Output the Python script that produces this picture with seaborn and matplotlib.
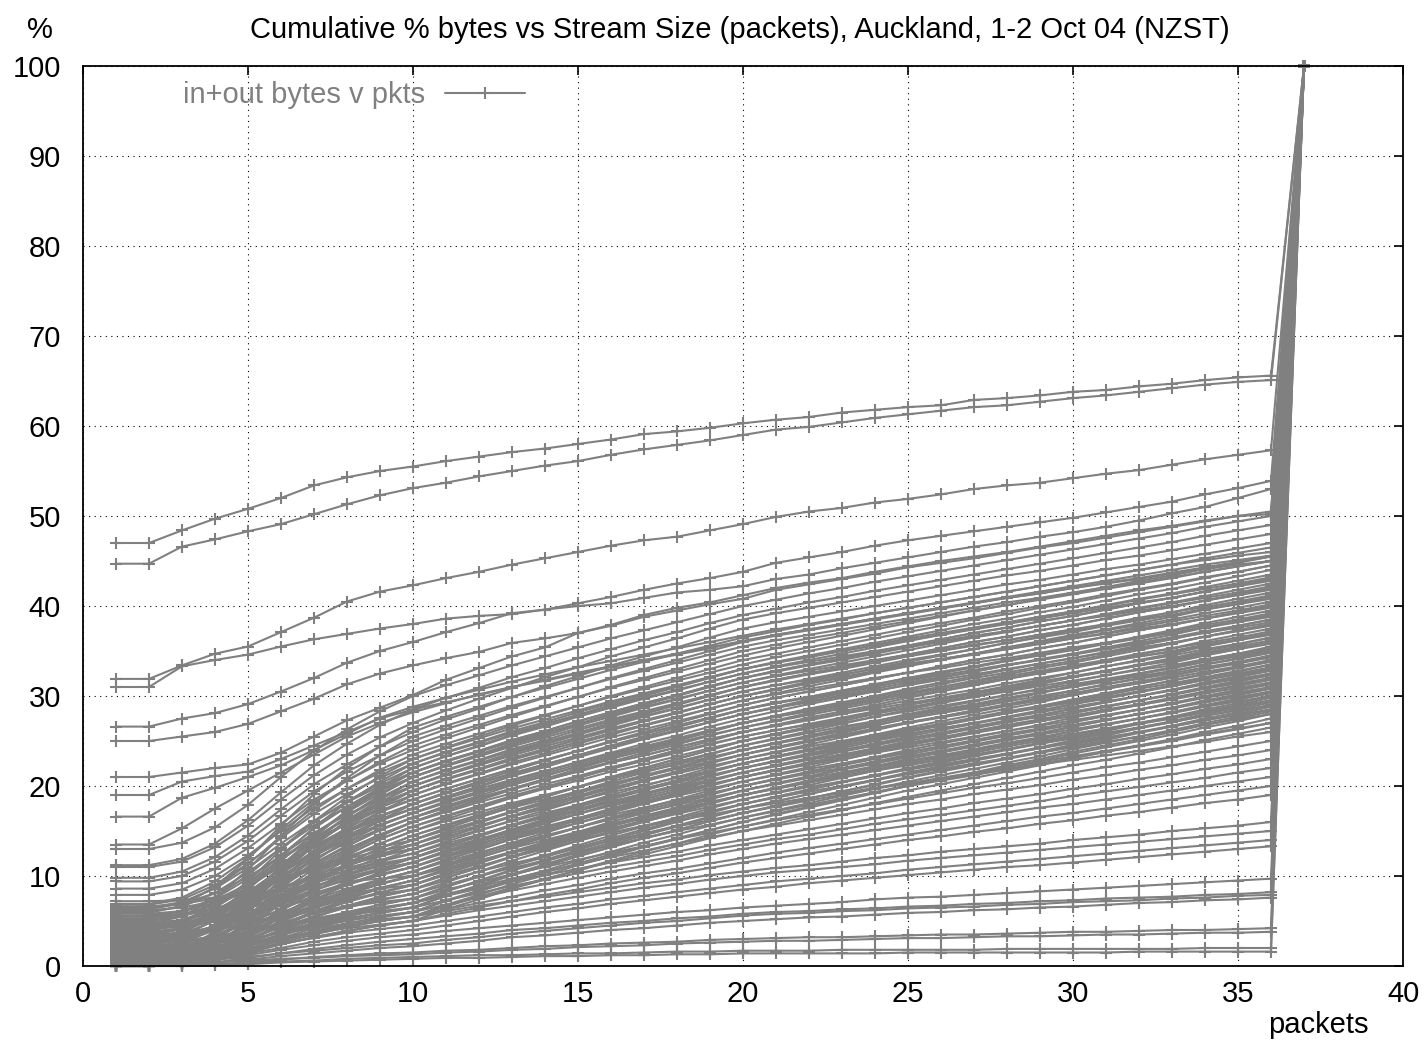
import matplotlib
matplotlib.use("Agg")
import matplotlib.pyplot as plt
import seaborn as sns
import pandas as pd
from matplotlib.lines import Line2D

# ---------------- data ----------------
PACKETS = [1, 2, 3, 4, 5, 6, 7, 8, 9, 10, 11, 12, 13, 14, 15, 16, 17, 18, 19, 20,
           21, 22, 23, 24, 25, 26, 27, 28, 29, 30, 31, 32, 33, 34, 35, 36, 37]

top_a = [47.0,47.0,48.4,49.7,50.8,52.0,53.4,54.3,55.0,55.5,56.1,56.6,57.1,57.5,58.0,58.5,59.1,59.4,59.8,60.3,60.7,61.0,61.5,61.8,62.1,62.3,62.9,63.1,63.4,63.8,64.0,64.4,64.7,65.1,65.4,65.6,100]
top_b = [44.7,44.7,46.6,47.4,48.3,49.1,50.2,51.3,52.3,53.1,53.7,54.4,55.0,55.6,56.1,56.8,57.4,57.9,58.4,59.0,59.6,59.9,60.4,60.9,61.3,61.7,62.1,62.3,62.7,63.1,63.4,63.8,64.2,64.6,64.9,65.1,100]
top_c = [31.9,31.9,33.4,34.7,35.5,37.1,38.7,40.5,41.6,42.3,43.1,43.8,44.6,45.3,46.0,46.7,47.3,47.7,48.4,49.1,49.9,50.5,50.9,51.5,51.9,52.4,53.0,53.4,53.7,54.2,54.7,55.1,55.7,56.3,56.8,57.3,100]
top_d = [31.0,31.0,33.3,34.0,34.6,35.5,36.3,36.9,37.5,38.0,38.6,38.9,39.1,39.6,40.3,41.0,41.8,42.5,43.1,43.8,44.8,45.4,46.0,46.7,47.3,47.8,48.3,48.8,49.3,49.8,50.4,51.0,51.6,52.4,53.1,53.9,100]
top_e = [26.6,26.6,27.5,28.1,29.1,30.5,32.0,33.7,35.0,36.0,37.1,38.1,39.2,39.6,40.0,40.3,40.9,41.5,41.8,42.2,43.0,43.5,44.2,44.8,45.4,46.0,46.6,47.1,47.7,48.2,48.8,49.5,50.3,51.0,52.0,53.0,100]
top_f = [25.0,25.0,25.5,26.0,26.9,28.3,29.7,31.3,32.5,33.4,34.2,34.9,35.9,36.4,37.0,37.8,38.8,39.5,40.2,40.8,41.8,42.4,43.0,43.6,44.3,44.8,45.3,45.9,46.5,47.0,47.6,48.2,48.8,49.4,50.0,50.5,100]
top_g = [21.0,21.0,21.5,22.0,22.4,23.7,25.5,27.3,28.7,30.1,31.8,33.1,34.4,35.4,37.0,37.9,39.0,39.8,40.4,41.2,42.0,42.6,43.1,43.8,44.4,45.0,45.5,46.0,46.6,47.2,47.8,48.4,48.9,49.5,50.0,50.2,100]
top_h = [19.0,19.0,20.5,21.1,21.6,23.0,24.5,26.0,27.5,28.5,29.3,30.1,31.0,31.7,32.5,33.2,33.9,34.6,35.3,36.1,36.8,37.4,38.0,38.6,39.2,39.8,40.4,41.0,41.6,42.2,42.8,43.4,44.0,44.6,45.1,45.6,100]
top_i = [16.6,16.6,18.7,19.8,21.0,22.3,24.0,25.8,27.6,28.8,29.8,30.7,31.6,32.4,33.2,33.9,34.6,35.3,36.0,36.7,37.4,38.0,38.6,39.2,39.8,40.4,41.0,41.6,42.2,42.8,43.4,44.0,44.6,45.1,45.6,46.0,100]
top_j = [13.5,13.5,15.3,17.5,19.5,21.5,23.5,25.5,27.0,28.2,29.2,30.2,31.0,31.8,32.6,33.3,34.0,34.7,35.4,36.1,36.8,37.4,38.0,38.6,39.2,39.8,40.3,40.9,41.4,42.0,42.5,43.0,43.6,44.1,44.6,45.0,100]

band_01 = [13.0,13.0,13.7,15.4,17.9,21.0,23.9,26.3,28.3,30.0,31.2,32.3,33.4,34.4,35.4,36.4,37.3,38.2,39.1,40.0,40.7,41.4,42.0,42.7,43.3,43.9,44.5,45.1,45.7,46.3,46.9,47.5,48.1,48.8,49.4,50.0,100]
band_02 = [11.2,11.2,11.9,13.6,16.2,19.3,22.3,24.7,26.8,28.5,29.8,30.9,32.1,33.1,34.2,35.2,36.2,37.1,38.1,39.0,39.7,40.4,41.0,41.7,42.3,42.9,43.5,44.1,44.7,45.3,45.9,46.5,47.1,47.8,48.4,49.0,100]
band_03 = [11.0,11.0,11.6,13.2,15.6,18.5,21.2,23.5,25.4,27.0,28.4,29.7,30.9,32.1,33.2,34.4,35.4,36.4,37.5,38.5,39.2,39.8,40.4,41.0,41.6,42.2,42.8,43.4,43.9,44.5,45.1,45.6,46.2,46.8,47.4,48.0,100]
band_04 = [9.8,9.8,10.5,12.1,14.5,17.4,20.2,22.4,24.4,26.0,27.4,28.6,29.9,31.1,32.2,33.4,34.4,35.4,36.5,37.5,38.2,38.8,39.4,40.0,40.6,41.2,41.8,42.4,42.9,43.5,44.1,44.6,45.2,45.8,46.4,47.0,100]
band_05 = [9.4,9.4,10.0,11.6,13.9,16.7,19.4,21.6,23.4,25.0,26.3,27.5,28.7,29.8,30.9,32.0,33.0,34.0,35.0,36.0,36.7,37.3,37.9,38.5,39.1,39.7,40.3,40.9,41.4,42.0,42.6,43.1,43.7,44.3,44.9,45.5,100]
band_06 = [8.6,8.6,9.2,10.8,13.1,15.8,18.5,20.6,22.5,24.0,25.3,26.5,27.7,28.8,29.9,31.0,32.0,33.0,34.0,35.0,35.7,36.4,37.0,37.7,38.3,38.9,39.5,40.1,40.7,41.3,41.9,42.5,43.1,43.8,44.4,45.0,100]
band_07 = [7.9,7.9,8.5,10.0,12.3,15.0,17.6,19.7,21.5,23.0,24.3,25.5,26.7,27.8,28.9,30.0,31.0,32.0,33.0,34.0,34.7,35.4,36.1,36.8,37.5,38.1,38.7,39.4,40.0,40.6,41.3,41.9,42.5,43.2,43.8,44.5,100]
band_08 = [6.8,6.8,7.4,9.0,11.4,14.2,16.9,19.1,20.9,22.5,23.8,24.9,26.1,27.1,28.2,29.2,30.2,31.1,32.1,33.0,33.8,34.5,35.2,35.9,36.6,37.3,38.0,38.6,39.3,39.9,40.6,41.3,41.9,42.6,43.3,44.0,100]
band_09 = [6.5,6.5,7.1,8.6,10.9,13.6,16.1,18.2,20.0,21.5,22.8,23.9,25.1,26.1,27.2,28.2,29.2,30.1,31.1,32.0,32.8,33.5,34.2,34.9,35.6,36.3,37.0,37.6,38.3,38.9,39.6,40.3,40.9,41.6,42.3,43.0,100]
band_10 = [6.0,6.0,6.6,8.1,10.4,13.1,15.6,17.7,19.5,21.0,22.2,23.3,24.4,25.4,26.4,27.4,28.3,29.2,30.1,31.0,31.8,32.5,33.2,33.9,34.6,35.3,36.0,36.6,37.3,37.9,38.6,39.3,39.9,40.6,41.3,42.0,100]
band_11 = [5.5,5.5,6.1,7.5,9.7,12.3,14.8,16.8,18.6,20.0,21.3,22.4,23.6,24.6,25.7,26.7,27.7,28.6,29.6,30.5,31.2,31.9,32.6,33.3,34.0,34.6,35.2,35.9,36.5,37.1,37.8,38.4,39.0,39.7,40.3,41.0,100]
band_12 = [5.0,5.0,5.6,7.0,9.2,11.8,14.3,16.3,18.1,19.5,20.8,21.9,23.1,24.1,25.2,26.2,27.2,28.1,29.1,30.0,30.7,31.4,32.1,32.8,33.5,34.1,34.7,35.4,36.0,36.6,37.3,37.9,38.5,39.2,39.8,40.5,100]
band_13 = [4.5,4.5,5.1,6.5,8.7,11.3,13.8,15.8,17.6,19.0,20.2,21.3,22.4,23.4,24.4,25.4,26.3,27.2,28.1,29.0,29.8,30.5,31.2,31.9,32.6,33.3,34.0,34.6,35.3,35.9,36.6,37.3,37.9,38.6,39.3,40.0,100]
band_14 = [4.0,4.0,4.6,6.0,8.2,10.8,13.3,15.3,17.1,18.5,19.7,20.8,21.9,22.9,23.9,24.9,25.8,26.7,27.6,28.5,29.2,29.9,30.6,31.3,32.0,32.6,33.2,33.9,34.5,35.1,35.8,36.4,37.0,37.7,38.3,39.0,100]
band_15 = [3.5,3.5,4.1,5.5,7.7,10.3,12.8,14.8,16.6,18.0,19.2,20.3,21.4,22.4,23.4,24.4,25.3,26.2,27.1,28.0,28.7,29.4,30.1,30.8,31.5,32.1,32.7,33.4,34.0,34.6,35.3,35.9,36.5,37.2,37.8,38.5,100]
band_16 = [3.0,3.0,3.6,5.0,7.2,9.8,12.3,14.3,16.1,17.5,18.6,19.7,20.7,21.7,22.6,23.6,24.4,25.3,26.2,27.0,27.8,28.5,29.2,29.9,30.6,31.3,32.0,32.6,33.3,33.9,34.6,35.3,35.9,36.6,37.3,38.0,100]
band_17 = [2.5,2.5,3.1,4.5,6.7,9.3,11.8,13.8,15.6,17.0,18.1,19.2,20.2,21.2,22.1,23.1,23.9,24.8,25.7,26.5,27.2,27.9,28.6,29.3,30.0,30.6,31.2,31.9,32.5,33.1,33.8,34.4,35.0,35.7,36.3,37.0,100]
band_18 = [2.0,2.0,2.6,4.0,6.2,8.8,11.3,13.3,15.1,16.5,17.6,18.7,19.7,20.7,21.6,22.6,23.4,24.3,25.2,26.0,26.7,27.4,28.1,28.8,29.5,30.1,30.7,31.4,32.0,32.6,33.3,33.9,34.5,35.2,35.8,36.5,100]
band_19 = [1.5,1.5,2.1,3.5,5.7,8.3,10.8,12.8,14.6,16.0,17.1,18.2,19.2,20.2,21.1,22.1,22.9,23.8,24.7,25.5,26.2,26.9,27.6,28.3,29.0,29.6,30.2,30.9,31.5,32.1,32.8,33.4,34.0,34.7,35.3,36.0,100]
band_20 = [1.0,1.0,1.6,3.0,5.2,7.8,10.3,12.3,14.1,15.5,16.6,17.7,18.7,19.7,20.6,21.6,22.4,23.3,24.2,25.0,25.7,26.4,27.0,27.7,28.3,28.9,29.5,30.1,30.7,31.3,31.9,32.5,33.1,33.8,34.4,35.0,100]
band_21 = [0.5,0.5,1.1,2.5,4.7,7.3,9.8,11.8,13.6,15.0,16.1,17.1,18.1,19.0,19.9,20.8,21.6,22.4,23.2,24.0,24.7,25.4,26.1,26.8,27.5,28.1,28.7,29.4,30.0,30.6,31.3,31.9,32.5,33.2,33.8,34.5,100]
band_22 = [0.2,0.2,0.8,2.2,4.4,6.9,9.4,11.4,13.1,14.5,15.6,16.6,17.6,18.5,19.4,20.3,21.1,21.9,22.7,23.5,24.2,24.9,25.6,26.3,27.0,27.6,28.2,28.9,29.5,30.1,30.8,31.4,32.0,32.7,33.3,34.0,100]
band_23 = [5.8,5.8,6.1,7.0,8.2,9.7,11.1,12.2,13.2,14.0,15.1,16.1,17.1,18.0,18.9,19.8,20.6,21.4,22.2,23.0,23.7,24.4,25.0,25.7,26.3,26.9,27.5,28.1,28.7,29.3,29.9,30.5,31.1,31.8,32.4,33.0,100]
band_24 = [6.2,6.2,6.5,7.2,8.3,9.6,10.9,11.9,12.8,13.5,14.6,15.6,16.6,17.5,18.4,19.3,20.1,20.9,21.7,22.5,23.2,23.9,24.5,25.2,25.8,26.4,27.0,27.6,28.2,28.8,29.4,30.0,30.6,31.3,31.9,32.5,100]
band_25 = [4.8,4.8,5.1,6.0,7.2,8.7,10.1,11.2,12.2,13.0,14.1,15.1,16.1,17.0,17.9,18.8,19.6,20.4,21.2,22.0,22.7,23.4,24.0,24.7,25.3,25.9,26.5,27.1,27.7,28.3,28.9,29.5,30.1,30.8,31.4,32.0,100]
band_26 = [3.8,3.8,4.2,5.0,6.3,7.9,9.4,10.6,11.6,12.5,13.6,14.6,15.6,16.5,17.4,18.3,19.1,19.9,20.7,21.5,22.2,22.9,23.5,24.2,24.8,25.4,26.0,26.6,27.2,27.8,28.4,29.0,29.6,30.3,30.9,31.5,100]
band_27 = [3.2,3.2,3.6,4.4,5.8,7.3,8.8,10.1,11.1,12.0,13.1,14.1,15.1,16.0,16.9,17.8,18.6,19.4,20.2,21.0,21.7,22.4,23.0,23.7,24.3,24.9,25.5,26.1,26.7,27.3,27.9,28.5,29.1,29.8,30.4,31.0,100]
band_28 = [2.8,2.8,3.2,4.0,5.3,6.9,8.4,9.6,10.6,11.5,12.6,13.6,14.6,15.5,16.4,17.3,18.1,18.9,19.7,20.5,21.2,21.9,22.5,23.2,23.8,24.4,25.0,25.6,26.2,26.8,27.4,28.0,28.6,29.3,29.9,30.5,100]
band_29 = [2.2,2.2,2.6,3.4,4.8,6.3,7.8,9.1,10.1,11.0,12.1,13.1,14.1,15.0,15.9,16.8,17.6,18.4,19.2,20.0,20.7,21.4,22.0,22.7,23.3,23.9,24.5,25.1,25.7,26.3,26.9,27.5,28.1,28.8,29.4,30.0,100]
band_30 = [1.8,1.8,2.2,3.0,4.3,5.9,7.4,8.6,9.6,10.5,11.6,12.6,13.6,14.5,15.4,16.3,17.1,17.9,18.7,19.5,20.2,20.9,21.5,22.2,22.8,23.4,24.0,24.6,25.2,25.8,26.4,27.0,27.6,28.3,28.9,29.5,100]
band_31 = [1.2,1.2,1.6,2.4,3.8,5.3,6.8,8.1,9.1,10.0,11.1,12.1,13.1,14.0,14.9,15.8,16.6,17.4,18.2,19.0,19.7,20.4,21.0,21.7,22.3,22.9,23.5,24.1,24.7,25.3,25.9,26.5,27.1,27.8,28.4,29.0,100]
band_32 = [0.8,0.8,1.2,2.0,3.3,4.9,6.4,7.6,8.6,9.5,10.6,11.6,12.6,13.5,14.4,15.3,16.1,16.9,17.7,18.5,19.2,19.9,20.5,21.2,21.8,22.4,23.0,23.6,24.2,24.8,25.4,26.0,26.6,27.3,27.9,28.5,100]
band_33 = [0.4,0.4,0.7,1.6,2.9,4.4,5.9,7.1,8.1,9.0,10.1,11.1,12.1,13.0,13.9,14.8,15.6,16.4,17.2,18.0,18.7,19.4,20.0,20.7,21.3,21.9,22.5,23.1,23.7,24.3,24.9,25.5,26.1,26.8,27.4,28.0,100]
band_34 = [0.1,0.1,0.4,1.3,2.5,4.1,5.5,6.7,7.7,8.5,9.5,10.5,11.4,12.2,13.1,13.9,14.7,15.5,16.2,17.0,17.7,18.4,19.0,19.7,20.3,20.9,21.5,22.1,22.7,23.3,23.9,24.5,25.1,25.8,26.4,27.0,100]
band_35 = [7.2,7.2,7.3,7.6,8.0,8.5,9.0,9.4,9.7,10.0,10.9,11.7,12.6,13.3,14.1,14.8,15.5,16.2,16.8,17.5,18.1,18.7,19.2,19.8,20.3,20.8,21.3,21.8,22.4,22.9,23.4,23.9,24.4,24.9,25.5,26.0,100]
band_36 = [0.0,0.0,0.3,1.1,2.2,3.5,4.8,5.9,6.8,7.5,8.5,9.3,10.2,11.0,11.8,12.6,13.3,14.1,14.8,15.5,16.2,16.8,17.4,18.0,18.6,19.2,19.8,20.3,20.9,21.5,22.1,22.6,23.2,23.8,24.4,25.0,100]
band_37 = [0.3,0.3,0.6,1.2,2.2,3.5,4.6,5.5,6.3,7.0,8.0,8.8,9.7,10.5,11.3,12.1,12.8,13.6,14.3,15.0,15.6,16.2,16.8,17.4,18.0,18.5,19.1,19.6,20.1,20.7,21.2,21.8,22.3,22.9,23.4,24.0,100]
band_38 = [1.0,1.0,1.2,1.8,2.7,3.8,4.8,5.7,6.4,7.0,7.8,8.6,9.4,10.1,10.8,11.5,12.1,12.7,13.4,14.0,14.6,15.2,15.8,16.4,17.0,17.5,18.1,18.6,19.1,19.7,20.2,20.8,21.3,21.9,22.4,23.0,100]
band_39 = [0.6,0.6,0.8,1.4,2.3,3.4,4.4,5.2,5.9,6.5,7.3,8.1,8.9,9.6,10.3,11.0,11.6,12.2,12.9,13.5,14.1,14.6,15.2,15.8,16.3,16.8,17.3,17.8,18.3,18.9,19.4,19.9,20.4,20.9,21.5,22.0,100]
band_40 = [0.2,0.2,0.4,1.0,1.9,2.9,3.9,4.7,5.4,6.0,6.8,7.6,8.4,9.1,9.8,10.5,11.1,11.7,12.4,13.0,13.6,14.1,14.6,15.1,15.6,16.1,16.6,17.1,17.6,18.0,18.5,19.0,19.5,20.0,20.5,21.0,100]
band_41 = [0.9,0.9,1.1,1.5,2.2,3.1,3.8,4.5,5.0,5.5,6.3,7.0,7.7,8.4,9.0,9.7,10.3,10.8,11.4,12.0,12.6,13.1,13.6,14.1,14.6,15.1,15.6,16.1,16.6,17.0,17.5,18.0,18.5,19.0,19.5,20.0,100]
band_42 = [0.0,0.0,0.2,0.7,1.5,2.4,3.2,3.9,4.5,5.0,5.8,6.5,7.2,7.9,8.5,9.2,9.8,10.3,10.9,11.5,12.0,12.5,13.0,13.5,14.0,14.4,14.9,15.3,15.8,16.2,16.7,17.1,17.6,18.1,18.5,19.0,100]
band_43 = [2.0,2.0,2.1,2.5,3.0,3.7,4.2,4.7,5.2,5.5,6.1,6.7,7.2,7.7,8.2,8.7,9.2,9.6,10.1,10.5,10.9,11.2,11.6,12.0,12.3,12.7,13.0,13.3,13.6,14.0,14.3,14.6,15.0,15.3,15.6,16.0,100]
band_44 = [1.4,1.4,1.5,1.9,2.4,3.1,3.7,4.2,4.6,5.0,5.6,6.2,6.7,7.2,7.7,8.2,8.7,9.1,9.6,10.0,10.4,10.7,11.0,11.3,11.7,12.0,12.3,12.6,12.9,13.2,13.5,13.8,14.1,14.4,14.7,15.0,100]
band_45 = [0.7,0.7,0.9,1.2,1.8,2.5,3.1,3.7,4.1,4.5,5.0,5.5,6.0,6.5,6.9,7.4,7.8,8.2,8.6,9.0,9.4,9.7,10.0,10.3,10.7,11.0,11.3,11.6,11.9,12.2,12.5,12.8,13.1,13.4,13.7,14.0,100]
band_46 = [0.3,0.3,0.5,0.8,1.4,2.0,2.7,3.2,3.6,4.0,4.5,5.0,5.5,6.0,6.4,6.9,7.3,7.7,8.1,8.5,8.8,9.2,9.5,9.8,10.1,10.4,10.7,11.0,11.2,11.5,11.8,12.1,12.4,12.7,13.0,13.3,100]

mid_01 = [6.9,6.9,7.6,9.4,12.0,15.2,18.2,20.6,22.7,24.5,25.7,26.8,27.9,28.9,29.9,30.9,31.8,32.7,33.6,34.5,35.3,36.0,36.7,37.4,38.1,38.8,39.5,40.1,40.8,41.4,42.1,42.8,43.4,44.1,44.8,45.5,100]
mid_02 = [6.3,6.3,7.0,8.7,11.3,14.4,17.3,19.7,21.8,23.5,24.7,25.8,26.9,27.9,28.9,29.9,30.8,31.7,32.6,33.5,34.3,35.0,35.7,36.4,37.1,37.8,38.5,39.1,39.8,40.4,41.1,41.8,42.4,43.1,43.8,44.5,100]
mid_03 = [5.2,5.2,5.9,7.6,10.1,13.1,16.0,18.3,20.3,22.0,23.3,24.4,25.6,26.6,27.7,28.7,29.7,30.6,31.6,32.5,33.3,34.0,34.7,35.4,36.1,36.8,37.5,38.1,38.8,39.4,40.1,40.8,41.4,42.1,42.8,43.5,100]
mid_04 = [4.2,4.2,4.9,6.6,9.2,12.3,15.3,17.7,19.8,21.5,22.8,23.9,25.1,26.1,27.2,28.2,29.2,30.1,31.1,32.0,32.8,33.5,34.2,34.9,35.6,36.3,37.0,37.6,38.3,38.9,39.6,40.3,40.9,41.6,42.3,43.0,100]
mid_05 = [3.4,3.4,4.1,5.9,8.5,11.7,14.7,17.1,19.2,21.0,22.3,23.4,24.6,25.6,26.7,27.7,28.7,29.6,30.6,31.5,32.3,33.0,33.7,34.4,35.1,35.8,36.5,37.1,37.8,38.4,39.1,39.8,40.4,41.1,41.8,42.5,100]
mid_06 = [2.6,2.6,3.3,5.1,7.8,11.0,14.1,16.6,18.7,20.5,21.8,22.9,24.1,25.1,26.2,27.2,28.2,29.1,30.1,31.0,31.8,32.5,33.2,33.9,34.6,35.3,36.0,36.6,37.3,37.9,38.6,39.3,39.9,40.6,41.3,42.0,100]
mid_07 = [1.7,1.7,2.4,4.3,7.0,10.3,13.4,16.0,18.2,20.0,21.2,22.3,23.4,24.4,25.4,26.4,27.3,28.2,29.1,30.0,30.8,31.6,32.3,33.1,33.8,34.5,35.2,35.9,36.6,37.3,37.9,38.6,39.3,40.1,40.8,41.5,100]
mid_08 = [0.9,0.9,1.6,3.5,6.3,9.6,12.8,15.4,17.6,19.5,20.7,21.8,22.9,23.9,24.9,25.9,26.8,27.7,28.6,29.5,30.3,31.1,31.8,32.6,33.3,34.0,34.7,35.4,36.1,36.8,37.4,38.1,38.8,39.6,40.3,41.0,100]
mid_09 = [0.3,0.3,1.0,2.8,5.4,8.6,11.6,14.1,16.2,18.0,19.3,20.5,21.7,22.8,23.9,25.0,26.0,27.0,28.0,29.0,29.8,30.5,31.2,31.9,32.6,33.3,34.0,34.6,35.3,35.9,36.6,37.3,37.9,38.6,39.3,40.0,100]
mid_10 = [5.6,5.6,6.1,7.3,9.1,11.2,13.2,14.9,16.3,17.5,18.8,19.9,21.1,22.1,23.2,24.2,25.2,26.1,27.1,28.0,28.8,29.6,30.3,31.0,31.8,32.5,33.2,33.9,34.6,35.2,35.9,36.6,37.3,38.1,38.8,39.5,100]
mid_11 = [4.4,4.4,4.9,6.2,8.1,10.3,12.5,14.2,15.7,17.0,18.3,19.4,20.6,21.6,22.7,23.7,24.7,25.6,26.6,27.5,28.3,29.1,29.8,30.5,31.3,32.0,32.7,33.4,34.1,34.7,35.4,36.1,36.8,37.6,38.3,39.0,100]
mid_12 = [3.6,3.6,4.1,5.4,7.3,9.7,11.9,13.7,15.2,16.5,17.8,18.9,20.1,21.1,22.2,23.2,24.2,25.1,26.1,27.0,27.8,28.6,29.3,30.0,30.8,31.5,32.2,32.9,33.6,34.2,34.9,35.6,36.3,37.1,37.8,38.5,100]
mid_13 = [2.4,2.4,2.9,4.3,6.3,8.8,11.1,13.0,14.6,16.0,17.3,18.4,19.6,20.6,21.7,22.7,23.7,24.6,25.6,26.5,27.3,28.1,28.8,29.5,30.3,31.0,31.7,32.4,33.1,33.7,34.4,35.1,35.8,36.6,37.3,38.0,100]
mid_14 = [1.3,1.3,1.9,3.2,5.3,7.7,10.1,12.0,13.6,15.0,16.3,17.5,18.7,19.8,20.9,22.0,23.0,24.0,25.0,26.0,26.8,27.6,28.3,29.0,29.8,30.5,31.2,31.9,32.6,33.2,33.9,34.6,35.3,36.1,36.8,37.5,100]
mid_15 = [0.6,0.6,1.1,2.5,4.5,6.9,9.2,11.1,12.7,14.0,15.3,16.5,17.7,18.8,19.9,21.0,22.0,23.0,24.0,25.0,25.8,26.6,27.4,28.2,29.0,29.7,30.4,31.1,31.8,32.6,33.3,34.0,34.7,35.5,36.2,37.0,100]
mid_16 = [0.0,0.0,0.5,1.9,3.9,6.3,8.6,10.5,12.2,13.5,14.8,16.0,17.2,18.3,19.4,20.5,21.5,22.5,23.5,24.5,25.3,26.1,26.9,27.7,28.5,29.2,29.9,30.6,31.3,32.1,32.8,33.5,34.2,35.0,35.7,36.5,100]
mid_17 = [6.6,6.6,6.9,7.5,8.5,9.6,10.7,11.6,12.4,13.0,14.3,15.5,16.7,17.8,18.9,20.0,21.0,22.0,23.0,24.0,24.8,25.6,26.4,27.2,28.0,28.7,29.4,30.1,30.8,31.6,32.3,33.0,33.7,34.5,35.2,36.0,100]
mid_18 = [5.3,5.3,5.6,6.3,7.4,8.7,9.9,10.9,11.8,12.5,13.8,15.0,16.2,17.3,18.4,19.5,20.5,21.5,22.5,23.5,24.3,25.1,25.9,26.7,27.5,28.2,28.9,29.6,30.3,31.1,31.8,32.5,33.2,34.0,34.7,35.5,100]
mid_19 = [4.1,4.1,4.4,5.2,6.4,7.8,9.2,10.3,11.2,12.0,13.3,14.5,15.7,16.8,17.9,19.0,20.0,21.0,22.0,23.0,23.8,24.6,25.4,26.2,27.0,27.7,28.4,29.1,29.8,30.6,31.3,32.0,32.7,33.5,34.2,35.0,100]
mid_20 = [3.1,3.1,3.4,4.3,5.5,7.1,8.5,9.7,10.7,11.5,12.8,14.0,15.2,16.3,17.4,18.5,19.5,20.5,21.5,22.5,23.3,24.1,24.9,25.7,26.5,27.2,27.9,28.6,29.3,30.1,30.8,31.5,32.2,33.0,33.7,34.5,100]
mid_21 = [2.1,2.1,2.5,3.4,4.7,6.3,7.8,9.0,10.1,11.0,12.3,13.5,14.7,15.8,16.9,18.0,19.0,20.0,21.0,22.0,22.8,23.6,24.4,25.2,26.0,26.7,27.4,28.1,28.8,29.6,30.3,31.0,31.7,32.5,33.2,34.0,100]
mid_22 = [1.1,1.1,1.5,2.4,3.8,5.5,7.1,8.4,9.6,10.5,11.8,13.0,14.2,15.3,16.4,17.5,18.5,19.5,20.5,21.5,22.3,23.1,23.9,24.7,25.5,26.2,26.9,27.6,28.3,29.1,29.8,30.5,31.2,32.0,32.7,33.5,100]
mid_23 = [0.5,0.5,0.9,1.8,3.3,5.0,6.6,7.9,9.1,10.0,11.3,12.5,13.7,14.8,15.9,17.0,18.0,19.0,20.0,21.0,21.8,22.6,23.4,24.2,25.0,25.7,26.4,27.1,27.8,28.6,29.3,30.0,30.7,31.5,32.2,33.0,100]
mid_24 = [0.0,0.0,0.4,1.3,2.8,4.5,6.1,7.4,8.6,9.5,10.8,12.0,13.2,14.3,15.4,16.5,17.5,18.5,19.5,20.5,21.3,22.1,22.9,23.7,24.5,25.2,25.9,26.6,27.3,28.1,28.8,29.5,30.2,31.0,31.7,32.5,100]
mid_25 = [4.6,4.6,4.8,5.2,5.9,6.7,7.4,8.0,8.6,9.0,10.3,11.5,12.7,13.8,14.9,16.0,17.0,18.0,19.0,20.0,20.8,21.6,22.4,23.2,24.0,24.7,25.4,26.1,26.8,27.6,28.3,29.0,29.7,30.5,31.2,32.0,100]
mid_26 = [3.3,3.3,3.5,4.0,4.8,5.7,6.6,7.4,8.0,8.5,9.8,11.0,12.2,13.3,14.4,15.5,16.5,17.5,18.5,19.5,20.3,21.1,21.9,22.7,23.5,24.2,24.9,25.6,26.3,27.1,27.8,28.5,29.2,30.0,30.7,31.5,100]
mid_27 = [1.9,1.9,2.1,2.8,3.7,4.8,5.8,6.7,7.4,8.0,9.3,10.5,11.7,12.8,13.9,15.0,16.0,17.0,18.0,19.0,19.8,20.6,21.4,22.2,23.0,23.7,24.4,25.1,25.8,26.6,27.3,28.0,28.7,29.5,30.2,31.0,100]
mid_28 = [0.7,0.7,1.0,1.7,2.7,3.9,5.1,6.0,6.8,7.5,8.8,10.0,11.2,12.3,13.4,14.5,15.5,16.5,17.5,18.5,19.3,20.1,20.9,21.7,22.5,23.2,23.9,24.6,25.3,26.1,26.8,27.5,28.2,29.0,29.7,30.5,100]
mid_29 = [0.2,0.2,0.5,1.2,2.2,3.4,4.6,5.5,6.3,7.0,8.3,9.5,10.7,11.8,12.9,14.0,15.0,16.0,17.0,18.0,18.8,19.6,20.4,21.2,22.0,22.7,23.4,24.1,24.8,25.6,26.3,27.0,27.7,28.5,29.2,30.0,100]
mid_30 = [0.0,0.0,0.3,0.9,1.9,3.1,4.2,5.1,5.9,6.5,7.8,9.0,10.2,11.3,12.4,13.5,14.5,15.5,16.5,17.5,18.3,19.1,19.9,20.7,21.5,22.2,22.9,23.6,24.3,25.1,25.8,26.5,27.2,28.0,28.7,29.5,100]
mid_31 = [2.7,2.7,2.9,3.2,3.8,4.5,5.1,5.7,6.1,6.5,7.8,8.9,10.1,11.1,12.2,13.2,14.2,15.1,16.1,17.0,17.8,18.6,19.4,20.2,21.0,21.7,22.4,23.1,23.8,24.6,25.3,26.0,26.7,27.5,28.2,29.0,100]
mid_32 = [1.6,1.6,1.8,2.2,2.9,3.7,4.4,5.0,5.6,6.0,7.3,8.4,9.6,10.6,11.7,12.7,13.7,14.6,15.6,16.5,17.3,18.1,18.9,19.7,20.5,21.2,21.9,22.6,23.3,24.1,24.8,25.5,26.2,27.0,27.7,28.5,100]
mid_33 = [0.4,0.4,0.6,1.1,1.9,2.8,3.7,4.4,5.0,5.5,6.8,7.9,9.1,10.1,11.2,12.2,13.2,14.1,15.1,16.0,16.8,17.6,18.4,19.2,20.0,20.7,21.4,22.1,22.8,23.6,24.3,25.0,25.7,26.5,27.2,28.0,100]
mid_34 = [0.0,0.0,0.2,0.7,1.5,2.4,3.2,3.9,4.5,5.0,6.3,7.4,8.6,9.6,10.7,11.7,12.7,13.6,14.6,15.5,16.3,17.1,17.9,18.7,19.5,20.2,20.9,21.6,22.3,23.1,23.8,24.5,25.2,26.0,26.7,27.5,100]
mid_35 = [1.0,1.0,1.3,2.0,3.0,4.3,5.5,6.5,7.3,8.0,9.0,10.0,10.9,11.7,12.6,13.4,14.2,15.0,15.7,16.5,17.2,17.9,18.6,19.3,20.0,20.6,21.2,21.9,22.5,23.1,23.8,24.4,25.0,25.7,26.3,27.0,100]
mid_36 = [0.1,0.1,0.6,1.8,3.6,5.7,7.7,9.4,10.8,12.0,13.3,14.4,15.6,16.6,17.7,18.7,19.7,20.6,21.6,22.5,23.3,24.0,24.7,25.4,26.1,26.8,27.5,28.1,28.8,29.4,30.1,30.8,31.4,32.1,32.8,33.5,100]

extra_01 = [5.9,5.9,6.7,8.8,11.9,15.6,19.1,22.0,24.4,26.5,27.7,28.8,29.9,30.9,31.9,32.9,33.8,34.7,35.6,36.5,37.2,37.9,38.5,39.2,39.8,40.4,41.0,41.6,42.2,42.8,43.4,44.0,44.6,45.3,45.9,46.5,100]
extra_02 = [4.7,4.7,5.5,7.6,10.7,14.5,18.0,20.9,23.4,25.5,26.7,27.8,28.9,29.9,30.9,31.9,32.8,33.7,34.6,35.5,36.2,36.8,37.4,38.0,38.6,39.2,39.8,40.4,40.9,41.5,42.1,42.6,43.2,43.8,44.4,45.0,100]
extra_03 = [3.9,3.9,4.7,6.6,9.4,12.9,16.1,18.8,21.1,23.0,24.2,25.3,26.4,27.4,28.4,29.4,30.3,31.2,32.1,33.0,33.7,34.3,35.0,35.6,36.2,36.8,37.4,38.0,38.6,39.2,39.8,40.4,40.9,41.6,42.2,42.8,100]
extra_04 = [2.9,2.9,3.7,5.6,8.6,12.1,15.4,18.2,20.5,22.5,23.7,24.8,25.9,26.9,27.9,28.9,29.8,30.7,31.6,32.5,33.2,33.8,34.4,35.0,35.6,36.1,36.7,37.2,37.8,38.4,38.9,39.5,40.0,40.6,41.2,41.8,100]
extra_05 = [1.9,1.9,2.7,4.6,7.6,11.1,14.4,17.2,19.5,21.5,22.7,23.8,24.9,25.9,26.9,27.9,28.8,29.7,30.6,31.5,32.2,32.8,33.4,34.0,34.6,35.1,35.7,36.2,36.8,37.4,37.9,38.5,39.0,39.6,40.2,40.8,100]
extra_06 = [0.8,0.8,1.6,3.6,6.5,10.1,13.4,16.2,18.5,20.5,21.7,22.8,23.9,24.9,25.9,26.9,27.8,28.7,29.6,30.5,31.2,31.8,32.4,33.0,33.6,34.1,34.7,35.2,35.8,36.4,36.9,37.5,38.0,38.6,39.2,39.8,100]
extra_07 = [0.0,0.0,0.8,2.7,5.5,8.9,12.2,14.8,17.1,19.0,20.3,21.4,22.6,23.6,24.7,25.7,26.7,27.6,28.6,29.5,30.2,30.8,31.4,32.0,32.6,33.1,33.7,34.2,34.8,35.4,35.9,36.5,37.0,37.6,38.2,38.8,100]
extra_08 = [6.4,6.4,6.9,8.1,9.9,12.1,14.1,15.8,17.3,18.5,19.7,20.8,21.9,22.9,23.9,24.9,25.8,26.7,27.6,28.5,29.2,29.8,30.4,31.1,31.7,32.3,32.9,33.5,34.0,34.6,35.2,35.8,36.4,37.0,37.6,38.2,100]
extra_09 = [5.0,5.0,5.5,6.8,8.8,11.1,13.3,15.1,16.7,18.0,19.2,20.3,21.4,22.4,23.4,24.4,25.3,26.2,27.1,28.0,28.7,29.3,30.0,30.6,31.2,31.8,32.4,33.0,33.6,34.2,34.8,35.4,35.9,36.6,37.2,37.8,100]
extra_10 = [3.7,3.7,4.2,5.6,7.6,10.0,12.2,14.1,15.7,17.0,18.2,19.3,20.4,21.4,22.4,23.4,24.3,25.2,26.1,27.0,27.7,28.3,29.0,29.6,30.2,30.8,31.4,32.0,32.6,33.2,33.8,34.4,34.9,35.6,36.2,36.8,100]
extra_11 = [2.3,2.3,2.9,4.3,6.4,9.0,11.4,13.4,15.1,16.5,17.6,18.7,19.7,20.7,21.6,22.6,23.4,24.3,25.2,26.0,26.7,27.3,28.0,28.6,29.2,29.8,30.4,31.0,31.6,32.2,32.8,33.4,33.9,34.6,35.2,35.8,100]
extra_12 = [1.2,1.2,1.8,3.2,5.4,7.9,10.4,12.4,14.1,15.5,16.7,17.8,18.9,19.9,20.9,21.9,22.8,23.7,24.6,25.5,26.2,26.8,27.5,28.1,28.7,29.3,29.9,30.5,31.1,31.7,32.3,32.9,33.4,34.1,34.7,35.3,100]
extra_13 = [0.4,0.4,1.0,2.4,4.5,7.0,9.4,11.4,13.1,14.5,15.7,16.8,17.9,18.9,19.9,20.9,21.8,22.7,23.6,24.5,25.2,25.9,26.6,27.2,27.9,28.5,29.1,29.8,30.4,31.0,31.6,32.2,32.8,33.5,34.1,34.8,100]
extra_14 = [0.0,0.0,0.5,1.8,3.8,6.1,8.3,10.1,11.7,13.0,14.3,15.4,16.6,17.6,18.7,19.7,20.7,21.6,22.6,23.5,24.3,25.0,25.7,26.4,27.1,27.7,28.4,29.0,29.7,30.3,31.0,31.6,32.3,33.0,33.6,34.3,100]
extra_15 = [5.5,5.5,5.8,6.4,7.4,8.6,9.7,10.6,11.4,12.0,13.3,14.4,15.6,16.6,17.7,18.7,19.7,20.6,21.6,22.5,23.3,24.0,24.8,25.5,26.2,26.9,27.6,28.3,28.9,29.6,30.3,31.0,31.7,32.4,33.1,33.8,100]
extra_16 = [4.3,4.3,4.6,5.3,6.4,7.7,8.9,9.9,10.8,11.5,12.7,13.8,14.9,15.9,16.9,17.9,18.8,19.7,20.6,21.5,22.3,23.0,23.8,24.5,25.2,25.9,26.6,27.3,27.9,28.6,29.3,30.0,30.7,31.4,32.1,32.8,100]
extra_17 = [3.0,3.0,3.3,4.1,5.3,6.8,8.1,9.2,10.2,11.0,12.2,13.3,14.4,15.4,16.4,17.4,18.3,19.2,20.1,21.0,21.8,22.5,23.3,24.0,24.7,25.4,26.1,26.8,27.4,28.1,28.8,29.5,30.2,30.9,31.6,32.3,100]
extra_18 = [1.8,1.8,2.1,3.0,4.2,5.7,7.1,8.2,9.2,10.0,11.2,12.3,13.4,14.4,15.4,16.4,17.3,18.2,19.1,20.0,20.8,21.5,22.3,23.0,23.7,24.4,25.1,25.8,26.4,27.1,27.8,28.5,29.2,29.9,30.6,31.3,100]
extra_19 = [0.6,0.6,0.9,1.8,3.0,4.6,6.0,7.2,8.2,9.0,10.3,11.4,12.6,13.6,14.7,15.7,16.7,17.6,18.6,19.5,20.3,21.0,21.8,22.5,23.2,23.9,24.6,25.3,25.9,26.6,27.3,28.0,28.7,29.4,30.1,30.8,100]
extra_20 = [0.0,0.0,0.3,1.2,2.5,4.0,5.4,6.6,7.7,8.5,9.8,10.9,12.1,13.1,14.2,15.2,16.2,17.1,18.1,19.0,19.8,20.5,21.3,22.0,22.7,23.4,24.1,24.8,25.4,26.1,26.8,27.5,28.2,28.9,29.6,30.3,100]
extra_21 = [3.5,3.5,3.7,4.1,4.7,5.4,6.1,6.6,7.1,7.5,8.8,9.9,11.1,12.1,13.2,14.2,15.2,16.1,17.1,18.0,18.8,19.6,20.4,21.1,21.9,22.6,23.3,24.0,24.7,25.4,26.1,26.9,27.6,28.3,29.0,29.8,100]
extra_22 = [2.2,2.2,2.4,2.9,3.6,4.5,5.3,5.9,6.5,7.0,8.3,9.4,10.6,11.6,12.7,13.7,14.7,15.6,16.6,17.5,18.3,19.1,19.9,20.6,21.4,22.1,22.8,23.5,24.2,24.9,25.6,26.4,27.1,27.8,28.5,29.3,100]
extra_23 = [0.9,0.9,1.1,1.7,2.5,3.5,4.5,5.3,5.9,6.5,7.8,8.9,10.1,11.1,12.2,13.2,14.2,15.1,16.1,17.0,17.8,18.6,19.4,20.1,20.9,21.6,22.3,23.0,23.7,24.4,25.1,25.9,26.6,27.3,28.0,28.8,100]
extra_24 = [0.1,0.1,0.3,0.9,1.8,2.9,3.9,4.7,5.4,6.0,7.2,8.3,9.4,10.4,11.4,12.4,13.3,14.2,15.1,16.0,16.9,17.7,18.5,19.3,20.1,20.8,21.5,22.3,23.0,23.8,24.5,25.2,26.0,26.8,27.5,28.3,100]
extra_25 = [0.0,0.0,0.2,0.8,1.6,2.6,3.5,4.3,5.0,5.5,6.6,7.7,8.7,9.7,10.6,11.6,12.4,13.3,14.2,15.0,15.8,16.6,17.3,18.1,18.8,19.5,20.2,20.9,21.6,22.3,22.9,23.6,24.3,25.1,25.8,26.5,100]
extra_26 = [1.5,1.5,1.8,2.6,3.8,5.3,6.6,7.7,8.7,9.5,10.6,11.7,12.7,13.7,14.6,15.6,16.4,17.3,18.2,19.0,19.7,20.4,21.1,21.8,22.5,23.1,23.7,24.4,25.0,25.6,26.3,26.9,27.5,28.2,28.8,29.5,100]
extra_27 = [0.2,0.2,0.6,1.6,3.2,5.0,6.8,8.2,9.5,10.5,11.8,12.9,14.1,15.1,16.2,17.2,18.2,19.1,20.1,21.0,21.8,22.5,23.2,23.9,24.6,25.2,25.9,26.5,27.2,27.8,28.5,29.1,29.8,30.5,31.1,31.8,100]
extra_28 = [0.0,0.0,0.5,1.6,3.3,5.4,7.4,9.0,10.4,11.5,12.8,13.9,15.1,16.1,17.2,18.2,19.2,20.1,21.1,22.0,22.8,23.5,24.2,25.0,25.7,26.4,27.0,27.7,28.4,29.1,29.7,30.4,31.1,31.8,32.5,33.2,100]
extra_29 = [2.6,2.6,3.0,4.1,5.8,7.7,9.6,11.1,12.4,13.5,14.8,15.9,17.1,18.1,19.2,20.2,21.2,22.1,23.1,24.0,24.8,25.5,26.2,27.0,27.7,28.4,29.0,29.7,30.4,31.1,31.7,32.4,33.1,33.8,34.5,35.2,100]
extra_30 = [1.4,1.4,1.9,3.2,5.1,7.3,9.5,11.2,12.7,14.0,15.3,16.5,17.7,18.8,19.9,21.0,22.0,23.0,24.0,25.0,25.8,26.5,27.2,28.0,28.7,29.4,30.0,30.7,31.4,32.1,32.7,33.4,34.1,34.8,35.5,36.2,100]
extra_31 = [0.3,0.3,0.9,2.5,4.9,7.7,10.4,12.6,14.4,16.0,17.3,18.5,19.7,20.8,21.9,23.0,24.0,25.0,26.0,27.0,27.7,28.4,29.0,29.7,30.4,31.0,31.6,32.2,32.8,33.4,34.0,34.7,35.3,35.9,36.5,37.2,100]
extra_32 = [4.0,4.0,4.5,5.9,7.9,10.4,12.6,14.5,16.2,17.5,18.8,20.0,21.2,22.3,23.4,24.5,25.5,26.5,27.5,28.5,29.3,29.9,30.6,31.3,32.0,32.7,33.3,34.0,34.6,35.2,35.9,36.5,37.2,37.9,38.5,39.2,100]
extra_33 = [3.1,3.1,3.8,5.4,7.9,10.8,13.6,15.9,17.9,19.5,20.8,21.9,23.1,24.1,25.2,26.2,27.2,28.1,29.1,30.0,30.7,31.4,32.0,32.7,33.4,34.0,34.6,35.2,35.8,36.4,37.0,37.7,38.3,38.9,39.5,40.2,100]
extra_34 = [2.0,2.0,2.7,4.5,7.2,10.5,13.5,16.0,18.2,20.0,21.3,22.5,23.7,24.8,25.9,27.0,28.0,29.0,30.0,31.0,31.7,32.4,33.0,33.7,34.4,35.0,35.6,36.2,36.8,37.4,38.0,38.7,39.3,39.9,40.5,41.2,100]
extra_35 = [1.0,1.0,1.8,3.8,6.8,10.4,13.8,16.6,19.0,21.0,22.3,23.5,24.7,25.8,26.9,28.0,29.0,30.0,31.0,32.0,32.7,33.4,34.0,34.7,35.4,36.0,36.6,37.2,37.8,38.4,39.0,39.7,40.3,40.9,41.5,42.2,100]
extra_36 = [0.5,0.5,1.4,3.5,6.7,10.6,14.3,17.3,19.9,22.0,23.3,24.5,25.7,26.8,27.9,29.0,30.0,31.0,32.0,33.0,33.7,34.4,35.0,35.7,36.4,37.0,37.6,38.2,38.8,39.4,40.0,40.7,41.3,41.9,42.5,43.2,100]

low_01 = [0.2,0.2,0.3,0.7,1.2,1.8,2.3,2.8,3.2,3.5,3.9,4.2,4.5,4.8,5.1,5.4,5.7,6.0,6.2,6.5,6.7,6.9,7.1,7.4,7.6,7.7,7.9,8.1,8.3,8.5,8.7,8.9,9.1,9.3,9.5,9.7,100]
low_02 = [0.0,0.0,0.1,0.4,0.9,1.4,1.9,2.3,2.7,3.0,3.3,3.6,4.0,4.2,4.5,4.8,5.0,5.3,5.5,5.8,6.0,6.1,6.3,6.4,6.6,6.7,6.9,7.0,7.2,7.3,7.5,7.6,7.7,7.9,8.0,8.2,100]
low_03 = [0.4,0.4,0.5,0.7,1.0,1.4,1.7,2.0,2.3,2.5,2.9,3.2,3.6,3.9,4.2,4.5,4.8,5.0,5.3,5.6,5.8,5.9,6.1,6.2,6.4,6.5,6.6,6.8,6.9,7.1,7.2,7.3,7.5,7.6,7.8,7.9,100]
low_04 = [0.1,0.1,0.2,0.4,0.7,1.1,1.4,1.7,2.0,2.2,2.5,2.8,3.2,3.4,3.7,4.0,4.2,4.5,4.8,5.0,5.2,5.4,5.5,5.7,5.9,6.0,6.2,6.3,6.5,6.6,6.8,7.0,7.1,7.3,7.4,7.6,100]
low_05 = [0.0,0.0,0.1,0.2,0.4,0.7,1.0,1.2,1.4,1.5,1.7,1.8,2.0,2.2,2.3,2.5,2.6,2.7,2.9,3.0,3.1,3.2,3.2,3.3,3.4,3.5,3.5,3.6,3.7,3.8,3.8,3.9,4.0,4.0,4.1,4.2,100]
low_06 = [0.3,0.3,0.3,0.4,0.6,0.8,0.9,1.1,1.2,1.3,1.5,1.6,1.8,1.9,2.1,2.2,2.3,2.5,2.6,2.7,2.8,2.8,2.9,3.0,3.1,3.1,3.2,3.3,3.3,3.4,3.5,3.5,3.6,3.7,3.7,3.8,100]
low_07 = [0.0,0.0,0.0,0.1,0.3,0.5,0.6,0.8,0.9,1.0,1.1,1.2,1.2,1.3,1.4,1.4,1.5,1.6,1.6,1.7,1.7,1.7,1.8,1.8,1.8,1.8,1.8,1.9,1.9,1.9,1.9,1.9,1.9,2.0,2.0,2.0,100]
low_08 = [0.0,0.0,0.0,0.1,0.2,0.4,0.5,0.6,0.7,0.8,0.9,0.9,1.0,1.1,1.1,1.2,1.2,1.3,1.3,1.4,1.4,1.4,1.4,1.4,1.5,1.5,1.5,1.5,1.5,1.5,1.5,1.6,1.6,1.6,1.6,1.6,100]

STREAMS = [top_a, top_b, top_c, top_d, top_e, top_f, top_g, top_h, top_i, top_j,
           band_01, band_02, band_03, band_04, band_05, band_06, band_07, band_08,
           band_09, band_10, band_11, band_12, band_13, band_14, band_15, band_16,
           band_17, band_18, band_19, band_20, band_21, band_22, band_23, band_24,
           band_25, band_26, band_27, band_28, band_29, band_30, band_31, band_32,
           band_33, band_34, band_35, band_36, band_37, band_38, band_39, band_40,
           band_41, band_42, band_43, band_44, band_45, band_46,
           mid_01, mid_02, mid_03, mid_04, mid_05, mid_06, mid_07, mid_08, mid_09,
           mid_10, mid_11, mid_12, mid_13, mid_14, mid_15, mid_16, mid_17, mid_18,
           mid_19, mid_20, mid_21, mid_22, mid_23, mid_24, mid_25, mid_26, mid_27,
           mid_28, mid_29, mid_30, mid_31, mid_32, mid_33, mid_34, mid_35, mid_36,
           extra_01, extra_02, extra_03, extra_04, extra_05, extra_06, extra_07,
           extra_08, extra_09, extra_10, extra_11, extra_12, extra_13, extra_14,
           extra_15, extra_16, extra_17, extra_18, extra_19, extra_20, extra_21,
           extra_22, extra_23, extra_24, extra_25, extra_26, extra_27, extra_28,
           extra_29, extra_30, extra_31, extra_32, extra_33, extra_34, extra_35,
           extra_36,
           low_01, low_02, low_03, low_04, low_05, low_06, low_07, low_08]

X_TICKS = [0, 5, 10, 15, 20, 25, 30, 35, 40]
Y_TICKS = [0, 10, 20, 30, 40, 50, 60, 70, 80, 90, 100]
TITLE = "Cumulative % bytes vs Stream Size (packets), Auckland, 1-2 Oct 04 (NZST)"
LEGEND_LABEL = "in+out bytes v pkts"

for i, s in enumerate(STREAMS):
    assert len(s) == len(PACKETS), (i, len(s))

# ---------------- styling ----------------
GRAY = "#808080"
FS = 21
sns.set_theme(style="white")
plt.rcParams["font.family"] = ["Liberation Sans", "DejaVu Sans"]

rows = []
for sid, vals in enumerate(STREAMS):
    for p, v in zip(PACKETS, vals):
        rows.append((sid, p, v))
df = pd.DataFrame(rows, columns=["stream", "packets", "pct"])

W, H = 1427, 1040
fig = plt.figure(figsize=(W / 100, H / 100), dpi=100)
ax = fig.add_axes([83 / W, 74 / H, 1320 / W, 900 / H])

sns.lineplot(data=df, x="packets", y="pct", units="stream", estimator=None,
             sort=False, color=GRAY, linewidth=1.5, marker="+", markersize=8.5,
             markeredgewidth=1.5, markeredgecolor=GRAY, legend=False, ax=ax,
             zorder=3, clip_on=False)

ax.set_xlim(0, 40)
ax.set_ylim(0, 100)
ax.set_xticks(X_TICKS)
ax.set_yticks(Y_TICKS)
ax.set_xlabel("")
ax.set_ylabel("")
ax.grid(True, color="black", linestyle=(0, (1, 4)), linewidth=0.8, zorder=1)
ax.set_axisbelow(True)
ax.tick_params(axis="both", direction="in", length=6.5, width=1.2, colors="black",
               labelsize=FS, top=True, right=True)
ax.tick_params(axis="x", pad=10)
ax.tick_params(axis="y", pad=16)
for sp in ax.spines.values():
    sp.set_color("black")
    sp.set_linewidth(1.3)
    sp.set_zorder(5)

fig.text(740 / W, 1 - 30 / H, TITLE, ha="center", va="center", fontsize=FS, color="black")
fig.text(40 / W, 1 - 30 / H, "%", ha="center", va="center", fontsize=FS, color="black")
fig.text(1318 / W, 1 - 1025 / H, "packets", ha="center", va="center", fontsize=FS, color="black")

handle = Line2D([], [], color=GRAY, linewidth=1.5, marker="+", markersize=8.5,
                markeredgewidth=1.5)
ax.legend([handle], [LEGEND_LABEL], loc="center right",
          bbox_to_anchor=(525 / W, 1 - 95 / H), bbox_transform=fig.transFigure,
          frameon=False, markerfirst=False, handlelength=2.75, handletextpad=0.68,
          borderpad=0, borderaxespad=0, fontsize=FS, labelcolor=GRAY, numpoints=1)

fig.savefig("out.png", dpi=100)
